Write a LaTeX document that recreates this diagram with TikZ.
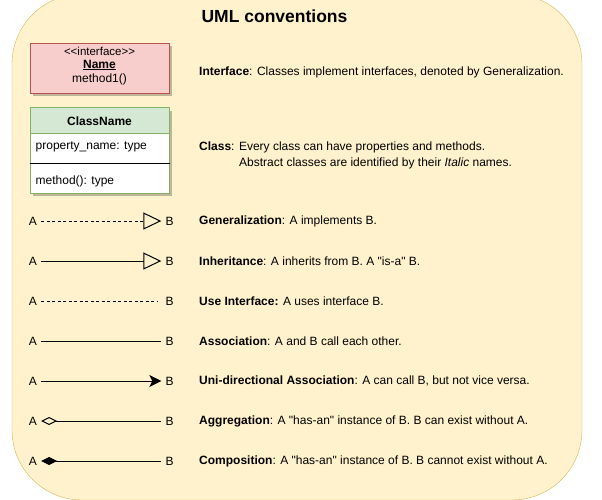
\documentclass[tikz,border=0pt]{standalone}
\usepackage{fontspec}
\setmainfont{Liberation Sans}[Ligatures=TeXOff]
\usetikzlibrary{arrows.meta,shadows}
\definecolor{bgfill}{HTML}{FFF2CC}
\definecolor{bgdraw}{HTML}{D6B656}
\definecolor{ifill}{HTML}{F8CECC}
\definecolor{idraw}{HTML}{B85450}
\definecolor{cfill}{HTML}{D5E8D4}
\definecolor{cdraw}{HTML}{82B366}
\begin{document}
\begin{tikzpicture}[x=1pt,y=-1pt,
  font=\fontsize{12}{14}\selectfont,
  lbl/.style={inner xsep=4pt,inner ysep=2pt},
  desc/.style={anchor=west,inner sep=0pt},
  plain/.style={inner sep=0pt},
  conn/.style={line width=1pt},
  dsh/.style={conn,dash pattern=on 3pt off 2.5pt},
  shad/.style={drop shadow={shadow xshift=3pt,shadow yshift=-3pt,opacity=0.25,fill=black}},
  box/.style={shad,line width=1pt,inner sep=0pt}]
\useasboundingbox (0,0) rectangle (602,499);
\node[fill=bgfill,draw=bgdraw,rounded corners=70pt,minimum width=570pt,minimum height=506pt,inner sep=0pt] (frame) at (297,247) {};
\node[font=\bfseries\fontsize{17.5}{20}\selectfont] (title) at (274.5,16) {UML conventions};

% interface box
\node[box,fill=ifill,draw=idraw,minimum width=139pt,minimum height=50pt] (iface) at (99.5,68) {};
\node[plain,font=\fontsize{11.5}{13}\selectfont] (istereo) at (99.5,51) {<<interface>>};
\node[plain,font=\bfseries\fontsize{12}{14}\selectfont] (iname) at (99.5,65) {\underline{Name}};
\node[plain] (imeth) at (99.5,79) {method1()};

% class box
\node[box,fill=cfill,draw=cdraw,minimum width=139pt,minimum height=26pt] (chead) at (99.5,120.7) {};
\node[box,fill=white,draw=cdraw,minimum width=139pt,minimum height=59.6pt] (cbody) at (99.5,163.5) {};
\draw[line width=1pt] (cbody.west) -- (cbody.east);
\node[plain,font=\bfseries\fontsize{12}{14}\selectfont] (cname) at (99.5,121) {ClassName};
\node[desc] (cprop) at (35.5,147) {property\_name: type};
\node[desc] (cmeth) at (35.5,181) {method(): type};

% descriptions
\node[desc] (d1) at (199,72) {\textbf{Interface}: Classes implement interfaces, denoted by Generalization.};
\node[desc] (d2) at (199,147) {\textbf{Class}: Every class can have properties and methods.};
\node[desc] (d2b) at (239,163) {Abstract classes are identified by their \textit{Italic} names.};
\node[desc] (d3) at (199,221) {\textbf{Generalization}: A implements B.};
\node[desc] (d4) at (199,261) {\textbf{Inheritance}: A inherits from B. A "is-a" B.};
\node[desc] (d5) at (199,301) {\textbf{Use Interface:} A uses interface B.};
\node[desc] (d6) at (199,341) {\textbf{Association}: A and B call each other.};
\node[desc] (d7) at (199,381) {\textbf{Uni-directional Association}: A can call B, but not vice versa.};
\node[desc] (d8) at (199,421) {\textbf{Aggregation}: A "has-an" instance of B. B can exist without A.};
\node[desc] (d9) at (199,461) {\textbf{Composition}: A "has-an" instance of B. B cannot exist without A.};

% connector rows
\foreach \i/\y in {1/221,2/261,3/301,4/341,5/381,6/421,7/461}{
  \node[lbl] (a\i) at (33,\y) {A};
  \node[lbl] (b\i) at (169.5,\y) {B};
}
\draw[dsh,-{Triangle[open,length=18pt,width=17pt]}] (a1.east) -- (b1.west);
\draw[conn,-{Triangle[open,length=18pt,width=17pt]}] (a2.east) -- (b2.west);
\draw[dsh] (a3.east) -- ([xshift=-3pt]b3.west);
\draw[conn] (a4.east) -- (b4.west);
\draw[conn,-{Stealth[length=12pt,width=12pt,inset=3pt]}] (a5.east) -- (b5.west);
\draw[conn,{Diamond[open,length=16pt,width=8pt]}-] (a6.east) -- (b6.west);
\draw[conn,{Diamond[length=16pt,width=8pt]}-] (a7.east) -- (b7.west);
\end{tikzpicture}
\end{document}
